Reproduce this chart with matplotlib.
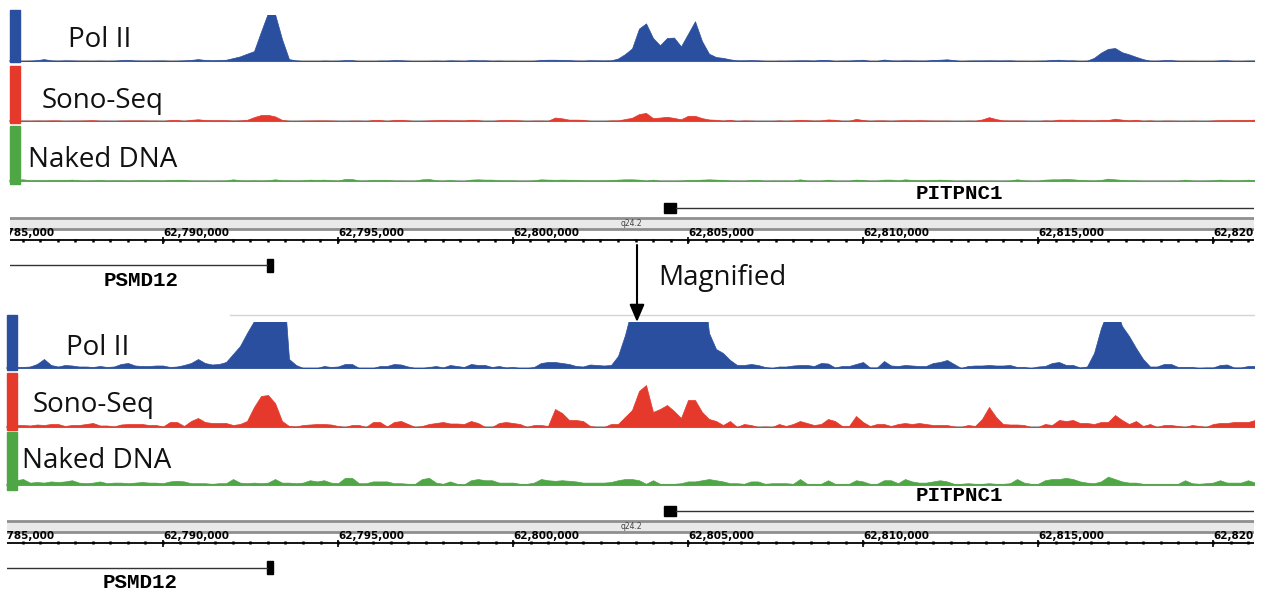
import matplotlib.pyplot as plt
from matplotlib.patches import Rectangle
import numpy as np

W, H = 1266, 593

# read coverage, 200 bp bins starting at chr17:62,785,600
bin_start = 62785600
bin_size = 200

pol2 = [1, 1, 1, 1.5, 4, 9, 3, 1.5, 3, 2.5,
        1.5, 1.5, 1, 2, 1, 1.5, 4, 5, 2.5, 2,
        2, 2.5, 2.5, 1, 1.5, 3, 5, 9, 5, 3.5,
        4, 6, 14, 22, 35, 47, 140, 230, 225, 105,
        9, 3, 0, 0, 0, 2, 1, 1.5, 4, 4,
        0, 0, 0, 2, 2, 4, 3.5, 1.5, 0, 0,
        1, 2, 0.5, 3, 2, 1, 4, 3, 3, 1,
        2, 0.5, 1, 0, 0, 1, 5, 6, 6, 5,
        4, 2, 1.5, 3.5, 3, 2.5, 3, 12, 33, 60,
        155, 180, 110, 75, 110, 112, 70, 130, 190, 95,
        35, 19, 15, 8, 3, 3, 4, 3, 1, 0,
        1.5, 1.5, 2.5, 3, 3, 2, 5, 4.5, 0.5, 2,
        2, 4, 6, 0.5, 0.5, 7, 2.5, 2, 3, 2.5,
        2, 2, 5, 6, 8, 4, 0, 2, 2.5, 2.5,
        3, 2.5, 2.5, 3, 1, 1, 0, 1.5, 2, 5,
        6, 3, 3, 0.5, 1.5, 15, 40, 58, 62, 42,
        32, 20, 9, 1.5, 1.5, 4, 4, 1, 1, 1,
        0, 0.5, 0.5, 3, 3.5, 0.5, 0.5, 2, 2]

sono = [1, 2, 2, 1.5, 2.5, 2, 3, 3, 1, 2,
        2, 3, 4, 1.5, 1.5, 0.5, 2.5, 3, 3, 3,
        2, 2, 0.5, 5, 5, 1, 6, 9, 5, 4,
        4, 4, 2, 3, 6, 20, 31, 32, 24, 6,
        1, 0.5, 2, 2.5, 3, 3, 2.5, 1, 0, 2,
        2, 0, 5, 5, 0.5, 5, 6, 3, 0, 1,
        3, 4, 5, 3.5, 3.5, 3, 6, 4, 0, 0,
        4, 5, 4, 3, 0, 2, 2, 1, 18, 14,
        7, 7, 6, 1, 0, 0, 3, 3, 10, 17,
        36, 42, 15, 18, 22, 16, 9, 27, 27, 15,
        8, 6, 2, 6, 0, 3, 2, 0, 0.5, 0,
        3, 1, 3, 6, 4, 2, 3, 8, 6, 1,
        1, 11, 5, 1, 3, 3, 1, 3, 4, 3,
        4, 3, 2, 2, 2, 0.5, 0, 2, 1, 8,
        20, 10, 3, 2.5, 2.5, 2, 0, 0, 3, 2,
        7, 6, 7, 4, 4, 3, 5, 5, 12, 7,
        3, 6, 1, 3, 0, 2, 2, 1, 0, 2,
        1, 0, 3, 4, 4, 5, 5, 5, 7]

naked = [1, 4, 5, 2, 2.5, 2, 3, 2.5, 3, 4,
         2, 1.5, 2, 3, 1.5, 2, 2, 1.5, 2, 2.5,
         2, 2, 1.5, 3, 3.5, 3, 1.5, 1.5, 1.5, 1,
         1.5, 1.5, 5, 2, 1.5, 2, 1.5, 2, 5, 2,
         2, 1.5, 2, 4, 3, 4, 2, 1.5, 6, 6,
         1.5, 1.5, 3, 3, 3, 1.5, 1.5, 1, 1, 5,
         6, 2, 1, 3, 1, 0.5, 4, 5, 4, 4,
         2, 2, 2, 1, 1, 2, 5, 4, 3.5, 4,
         3.5, 3, 2, 2, 2, 2, 2.5, 4, 5, 5,
         4, 1, 4, 1, 1, 1, 1.5, 3, 3, 4,
         5, 4, 3, 1.5, 1.5, 1, 3, 3, 1, 1.5,
         1.5, 1.5, 1, 5, 1, 1, 1, 4, 1, 1,
         1, 4, 3, 1, 1, 4, 4, 1.5, 5, 3,
         2, 2, 3, 4, 3, 1, 1, 1.5, 1, 1,
         1.5, 1, 1, 1.5, 5, 2, 1, 1, 4, 5,
         5, 6, 5, 3, 2, 1.5, 3, 7, 5, 3,
         2, 2, 1, 1, 1, 1, 1, 1, 4, 1.5,
         1, 1.5, 2, 4, 2, 2, 2, 4, 2]

track_names = ['Pol II', 'Sono-Seq', 'Naked DNA']
track_colors = ['#2a4f9e', '#e5392b', '#4ea645']

gene_names = ['PITPNC1', 'PSMD12']
gene_line = [(62804657, 62822000), (62784000, 62792971)]
gene_box = [(62804314, 62804657), (62792971, 62793143)]
band_name = 'q24.2'
band_label_pos = 62803370

major_ticks = np.arange(62785000, 62820001, 5000)
minor_ticks = np.arange(62785000, 62822001, 500)

top_xlim = (62785629, 62821171)
bot_xlim = (62785543, 62821171)
top_ymax = [220, 260, 150]
bot_ymax = [46, 50, 42]

pos = bin_start + bin_size * np.arange(len(pol2))
tracks = [pol2, sono, naked]

fig = plt.figure(figsize=(W / 100, H / 100), dpi=100)


def px_box(x0, y0, x1, y1):
    return [x0 / W, 1 - y1 / H, (x1 - x0) / W, (y1 - y0) / H]


def draw_tracks(x0, baselines, heights, xlim, ymax):
    for vals, c, base, h, ym in zip(tracks, track_colors, baselines, heights, ymax):
        ax = fig.add_axes(px_box(x0, base - h, 1254, base))
        ax.axhline(0, color='#b4b4b4', lw=1.5, clip_on=False, zorder=1)
        ax.fill_between(pos, vals, color=c, lw=0.5, zorder=2)
        ax.set_xlim(xlim)
        ax.set_ylim(0, ym)
        ax.axis('off')


def draw_annot(x0, y0, xlim):
    ax = fig.add_axes(px_box(x0, y0 + 185, 1254, y0 + 292))
    ax.set_xlim(xlim)
    ax.set_ylim(y0 + 292, y0 + 185)
    ax.axis('off')
    # genes
    for name, (ls, le), (bs, be), ly, ty, bh in zip(gene_names, gene_line, gene_box,
                                                  [208, 265], [193, 280], [10, 13]):
        ax.plot([ls, le], [y0 + ly] * 2, color='#333333', lw=1)
        ax.add_patch(Rectangle((bs, y0 + ly - bh / 2), be - bs, bh, color='black'))
        vis_l = max(min(ls, bs), xlim[0])
        vis_r = min(max(le, be), xlim[1])
        ax.text((vis_l + vis_r) / 2, y0 + ty, name, ha='center', va='center',
                family='Liberation Mono', weight='bold', fontsize=15)
    # cytoband
    ax.add_patch(Rectangle((xlim[0], y0 + 218), xlim[1] - xlim[0], 11,
                           facecolor='#e9e9e9', edgecolor='none'))
    ax.axhline(y0 + 218, color='#8f8f8f', lw=2)
    ax.axhline(y0 + 229, color='#8f8f8f', lw=2)
    ax.text(band_label_pos, y0 + 223.5, band_name, fontsize=5.5, ha='center',
            va='center', color='#444444')
    # ruler
    ax.axhline(y0 + 240, color='black', lw=1.3)
    ax.vlines(minor_ticks, y0 + 238.5, y0 + 241.5, color='black', lw=1.8)
    ax.vlines(major_ticks, y0 + 237, y0 + 244, color='black', lw=1.2)
    for t in major_ticks:
        ax.text(t, y0 + 233, f'{t:,}', fontsize=7.5, weight='bold', ha='left',
                va='center', clip_on=True)


draw_tracks(10, [61, 121, 181], [46, 50, 50], top_xlim, top_ymax)
draw_tracks(7, [368, 427, 485], [46, 50, 50], bot_xlim, bot_ymax)
draw_annot(10, 0, top_xlim)
draw_annot(7, 303, bot_xlim)

ov = fig.add_axes([0, 0, 1, 1])
ov.set_xlim(0, W)
ov.set_ylim(H, 0)
ov.axis('off')
for c, (ya, yb) in zip(track_colors, [(10, 62), (66, 123), (126, 184)]):
    ov.add_patch(Rectangle((10, ya), 10, yb - ya, color=c))
for c, (ya, yb) in zip(track_colors, [(315, 370), (373, 430), (432, 490)]):
    ov.add_patch(Rectangle((7, ya), 10, yb - ya, color=c))
for name, (x, y) in zip(track_names, [(68, 47), (42, 108), (28, 167)]):
    ov.text(x, y, name, fontsize=20, family='Open Sans', va='baseline', color='#111111')
for name, (x, y) in zip(track_names, [(66, 355), (33, 412), (22, 468)]):
    ov.text(x, y, name, fontsize=20, family='Open Sans', va='baseline', color='#111111')
ov.plot([230, 1254], [315, 315], color='#d4d4d4', lw=1)

ov.annotate('', xy=(637, 322), xytext=(637, 245),
            arrowprops=dict(arrowstyle='-|>,head_width=0.3,head_length=0.7',
                            color='black', lw=1.5, shrinkA=0, shrinkB=0,
                            mutation_scale=15))
ov.text(658, 285, 'Magnified', fontsize=20, family='Open Sans', va='baseline',
        color='#111111')

fig.savefig('out.png', dpi=100)
